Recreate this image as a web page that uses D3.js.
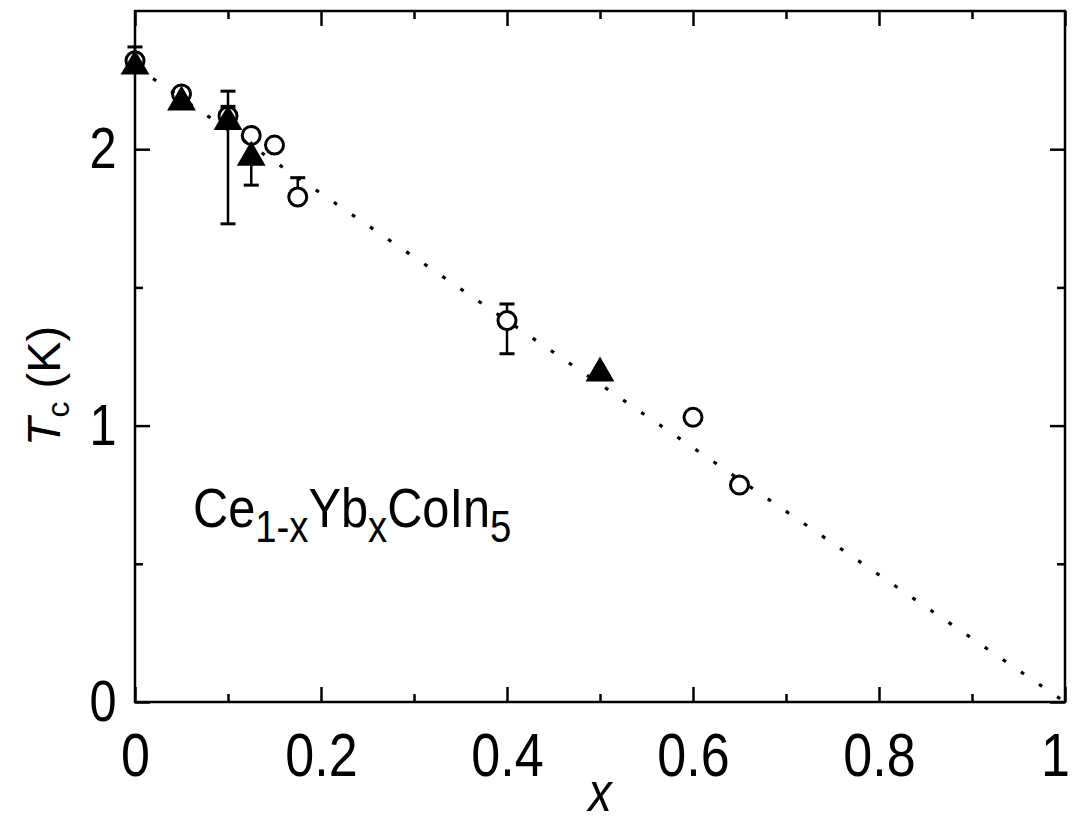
<!DOCTYPE html>
<html>
<head>
<meta charset="utf-8">
<script src="https://cdn.jsdelivr.net/npm/d3@7"></script>
<style>
body{margin:0;background:#fff}
text{font-family:"Liberation Sans",Arial,sans-serif;fill:#000}
</style>
</head>
<body>
<svg id="chart" width="1072" height="824"></svg>
<script>
// open circles
var circleX = [0, 0.05, 0.1, 0.125, 0.15, 0.175, 0.4, 0.6, 0.65]
var circleY = [2.32, 2.20, 2.12, 2.05, 2.015, 1.827, 1.38, 1.03, 0.785]
var circleErrUp = [0.05, 0, 0.035, 0, 0, 0.07, 0.06, 0, 0]
var circleErrDown = [0, 0, 0, 0, 0, 0, 0.12, 0, 0]
// filled triangles
var triX = [0, 0.05, 0.1, 0.125, 0.5]
var triY = [2.30, 2.17, 2.10, 1.97, 1.19]
var triErrUp = [0, 0, 0.11, 0, 0]
var triErrDown = [0, 0, 0.37, 0.10, 0]
// dotted guide line
var fitX = [0, 1]
var fitY = [2.30, 0]
// ticks
var xTicks = [0, 0.2, 0.4, 0.6, 0.8, 1]
var xMinor = [0.1, 0.3, 0.5, 0.7, 0.9]
var yTicks = [0, 1, 2]
var yMinor = [0.5, 1.5]

// (window.top is read-only, so not "top")
var pL = 135, pR = 1065, pT = 11, pB = 702
var sx = 0.84   // text is narrow in the picture
var font = '"Liberation Sans",Arial,sans-serif'

var svg = d3.select('#chart')
var x = d3.scaleLinear().domain([0, 1]).range([pL, pR])
var y = d3.scaleLinear().domain([0, 2.5]).range([pB, pT])

function styleAxis(g){
  g.select('.domain').remove()
  g.selectAll('.tick line').attr('stroke', '#000').attr('stroke-width', 2.5)
}

// bottom
svg.append('g').attr('transform', 'translate(0,' + pB + ')')
  .call(d3.axisBottom(x).tickValues(xTicks).tickSize(-15).tickPadding(30).tickFormat(d3.format('~g')))
  .call(styleAxis)
  .selectAll('text').attr('font-size', 62).attr('font-family', font)
  // last label pulled in a bit so it stays inside the page
  .attr('transform', function(d){ return d === 1 ? 'translate(-10,0) scale(' + sx + ',1)' : 'scale(' + sx + ',1)' })
svg.append('g').attr('transform', 'translate(0,' + pB + ')')
  .call(d3.axisBottom(x).tickValues(xMinor).tickSize(-8).tickFormat(''))
  .call(styleAxis)
// top
svg.append('g').attr('transform', 'translate(0,' + pT + ')')
  .call(d3.axisTop(x).tickValues(xTicks).tickSize(-15).tickFormat(''))
  .call(styleAxis)
svg.append('g').attr('transform', 'translate(0,' + pT + ')')
  .call(d3.axisTop(x).tickValues(xMinor).tickSize(-8).tickFormat(''))
  .call(styleAxis)
// left
svg.append('g').attr('transform', 'translate(' + pL + ',0)')
  .call(d3.axisLeft(y).tickValues(yTicks).tickSize(-15).tickPadding(22).tickFormat(d3.format('~g')))
  .call(styleAxis)
  .selectAll('text').attr('font-size', 58).attr('font-family', font)
  .attr('transform', 'scale(' + sx + ',1)')
svg.append('g').attr('transform', 'translate(' + pL + ',0)')
  .call(d3.axisLeft(y).tickValues(yMinor).tickSize(-8).tickFormat(''))
  .call(styleAxis)
// right
svg.append('g').attr('transform', 'translate(' + pR + ',0)')
  .call(d3.axisRight(y).tickValues(yTicks).tickSize(-15).tickFormat(''))
  .call(styleAxis)
svg.append('g').attr('transform', 'translate(' + pR + ',0)')
  .call(d3.axisRight(y).tickValues(yMinor).tickSize(-8).tickFormat(''))
  .call(styleAxis)

// frame
svg.append('rect').attr('x', pL).attr('y', pT)
  .attr('width', pR - pL).attr('height', pB - pT)
  .attr('fill', 'none').attr('stroke', '#000').attr('stroke-width', 2.5)

// dotted line
var fitData = fitX.map(function(d, i){ return [d, fitY[i]] })
svg.append('path').datum(fitData)
  .attr('d', d3.line().x(function(d){ return x(d[0]) }).y(function(d){ return y(d[1]) }))
  .attr('fill', 'none').attr('stroke', '#000').attr('stroke-width', 3.2)
  .attr('stroke-dasharray', '3.8 18.1')

var capW = 7.5

// triangles + error bars
var tri = triX.map(function(d, i){ return {x: d, y: triY[i], up: triErrUp[i], dn: triErrDown[i]} })
var triBars = svg.append('g').attr('stroke', '#000').attr('stroke-width', 2.5)
tri.filter(function(d){ return d.up > 0 || d.dn > 0 }).forEach(function(d){
  var cx = x(d.x)
  triBars.append('line').attr('x1', cx).attr('x2', cx).attr('y1', y(d.y + d.up)).attr('y2', y(d.y - d.dn))
  if(d.up > 0) triBars.append('line').attr('x1', cx - capW).attr('x2', cx + capW).attr('y1', y(d.y + d.up)).attr('y2', y(d.y + d.up)).attr('stroke-width', 3)
  if(d.dn > 0) triBars.append('line').attr('x1', cx - capW).attr('x2', cx + capW).attr('y1', y(d.y - d.dn)).attr('y2', y(d.y - d.dn)).attr('stroke-width', 3)
})
svg.selectAll('.tri').data(tri).enter().append('path')
  .attr('class', 'tri')
  .attr('d', d3.symbol().type(d3.symbolTriangle).size(360))
  .attr('transform', function(d){ return 'translate(' + x(d.x) + ',' + y(d.y) + ')' })
  .attr('fill', '#000')

// circles + error bars
var r = 9
var circ = circleX.map(function(d, i){ return {x: d, y: circleY[i], up: circleErrUp[i], dn: circleErrDown[i]} })
var circBars = svg.append('g').attr('stroke', '#000').attr('stroke-width', 2.5)
circ.forEach(function(d){
  var cx = x(d.x), cy = y(d.y)
  if(d.up > 0){
    circBars.append('line').attr('x1', cx).attr('x2', cx).attr('y1', y(d.y + d.up)).attr('y2', cy - r)
    circBars.append('line').attr('x1', cx - capW).attr('x2', cx + capW).attr('y1', y(d.y + d.up)).attr('y2', y(d.y + d.up)).attr('stroke-width', 3)
  }
  if(d.dn > 0){
    circBars.append('line').attr('x1', cx).attr('x2', cx).attr('y1', cy + r).attr('y2', y(d.y - d.dn))
    circBars.append('line').attr('x1', cx - capW).attr('x2', cx + capW).attr('y1', y(d.y - d.dn)).attr('y2', y(d.y - d.dn)).attr('stroke-width', 3)
  }
})
svg.selectAll('.circ').data(circ).enter().append('circle')
  .attr('class', 'circ')
  .attr('cx', function(d){ return x(d.x) }).attr('cy', function(d){ return y(d.y) })
  .attr('r', r).attr('fill', 'none').attr('stroke', '#000').attr('stroke-width', 3)

// compound label
var f = svg.append('g').attr('transform', 'translate(193,527) scale(0.87,1)')
  .append('text').attr('font-size', 56)
f.append('tspan').text('Ce')
f.append('tspan').attr('font-size', 44).attr('dy', 15).text('1-x')
f.append('tspan').attr('dy', -15).text('Yb')
f.append('tspan').attr('font-size', 44).attr('dy', 15).text('x')
f.append('tspan').attr('dy', -15).text('CoIn')
f.append('tspan').attr('font-size', 44).attr('dy', 15).text('5')

// y label
var yl = svg.append('text')
  .attr('transform', 'translate(60,386) rotate(-90)')
  .attr('text-anchor', 'middle').attr('font-size', 47)
yl.append('tspan').attr('font-style', 'italic').text('T')
yl.append('tspan').attr('font-size', 32).attr('dy', 9).text('c')
yl.append('tspan').attr('dy', -9).text(' (K)')

// x label
svg.append('g').attr('transform', 'translate(' + ((pL + pR) / 2) + ',811) scale(' + sx + ',1)')
  .append('text').attr('text-anchor', 'middle').attr('font-size', 56)
  .attr('font-style', 'italic').text('x')
</script>
</body>
</html>
